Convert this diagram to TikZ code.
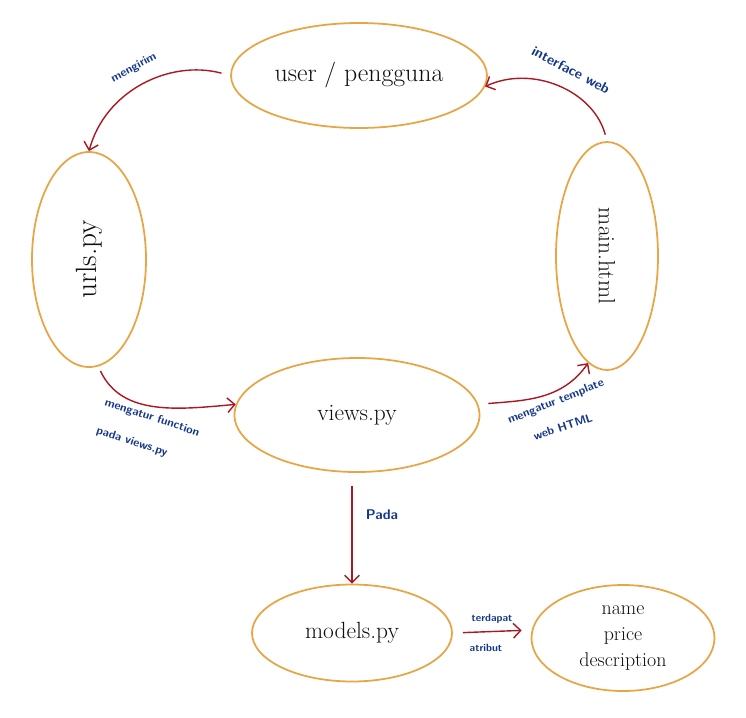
\documentclass[tikz,border=0pt]{standalone}
\usepackage{tikz}
\usetikzlibrary{positioning,arrows.meta,shapes.geometric}
\definecolor{skOrange}{RGB}{232,165,70}
\definecolor{skRed}{RGB}{170,25,35}
\definecolor{skBlue}{RGB}{20,55,140}
\definecolor{skInk}{RGB}{15,15,15}
\tikzset{
    base/.style={align=center},
    bubble/.style={base, ellipse, draw=skOrange, line width=1.5pt, fill=white,
                   text=skInk, inner sep=0pt, font=\fontsize{20}{24}\selectfont},
    flow/.style={-{Straight Barb[length=2.2mm, width=4.4mm, line width=1.2pt]},
                 line width=1.2pt, color=skRed},
    note/.style={base, font=\sffamily\bfseries, text=skBlue, inner sep=0pt}
}

\begin{document}
\begin{tikzpicture}[x=0.03cm, y=0.03cm]
  \useasboundingbox (0,0) rectangle (746,-717);

  % Files of the app
  \node[bubble, minimum width=7.68cm, minimum height=3.15cm,
        font=\fontsize{22}{26}\selectfont] (user) at (359,-75.5) {user / pengguna};
  \node[bubble, minimum width=3.42cm, minimum height=6.45cm,
        font=\fontsize{25}{30}\selectfont] (urls) at (89,-259.5) {\rotatebox{90}{urls.py}};
  \node[bubble, minimum width=3.06cm, minimum height=6.84cm] (main) at (607,-256) {\rotatebox{-90}{main.html}};
  \node[bubble, minimum width=7.35cm, minimum height=3.42cm] (views) at (357,-415) {views.py};
  \node[bubble, minimum width=6.0cm, minimum height=2.91cm] (models) at (352,-633) {models.py};
  \node[bubble, minimum width=5.49cm, minimum height=3.18cm,
        font=\fontsize{17}{22}\selectfont] (attr) at (623,-638) {name\\price\\description};

  % Request cycle
  \draw[flow, shorten <=0.27cm] (user.west) to[out=165, in=75] (urls.north);
  \draw[flow, shorten <=0.2cm] (main.north) to[out=105, in=25] (user.-5);
  \draw[flow, shorten <=0.15cm] (urls.-85) to[out=-65, in=185] (views.175);
  \draw[flow, shorten <=0.3cm] (views.5) to[out=5, in=235] (main.-100);
  \draw[flow, shorten <=0.39cm] (views.south -| models.north) -- (models.north);
  \draw[flow, shorten <=0.3cm, shorten >=0.3cm] (models.east) -- (attr.175);

  % Labels
  \node[note, rotate=28] (lSend) at (134,-68) {mengirim};
  \node[note, rotate=-28, font=\sffamily\bfseries\large] (lWeb) at (571,-70) {interface web};
  \node[note, rotate=-18] (lFunc) at (152,-418) {mengatur function};
  \node[note, rotate=-18] (lFuncB) at (132,-442) {pada views.py};
  \node[note, rotate=22] (lTmpl) at (556,-402) {mengatur template};
  \node[note, rotate=18] (lTmplB) at (563,-427) {web HTML};
  \node[note, font=\sffamily\bfseries\large] (lPada) at (382,-515) {Pada};
  \node[note, font=\sffamily\bfseries\small] (lAda) at (492,-619) {terdapat};
  \node[note, font=\sffamily\bfseries\small] (lAttr) at (486,-648) {atribut};
\end{tikzpicture}
\end{document}
